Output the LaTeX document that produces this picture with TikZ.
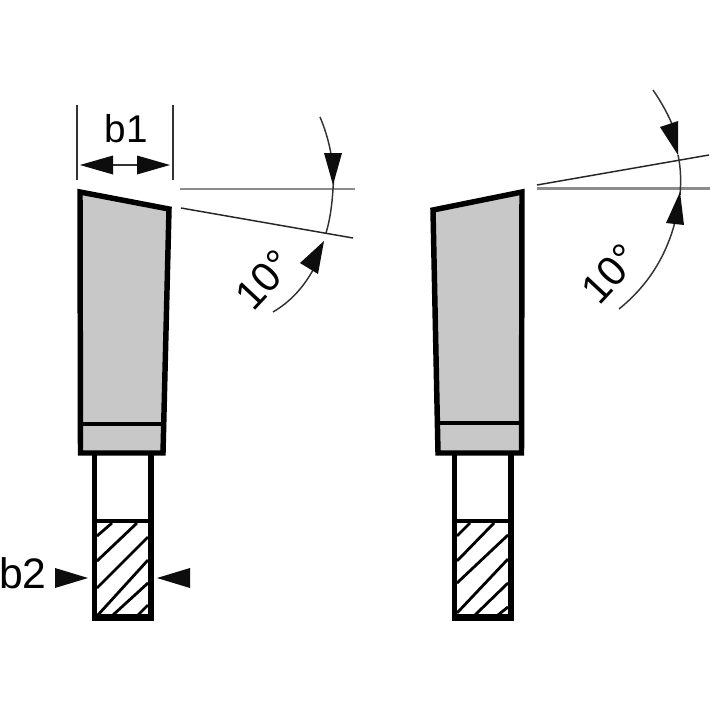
\documentclass[tikz,border=0pt]{standalone}
\usepackage{fontspec}
\setmainfont{Liberation Sans}
\tikzset{
  toothbody/.style={draw=black,line width=4.1pt,fill=toothgray,line join=miter},
  heavy/.style={draw=black,line width=4.1pt,line cap=butt},
  divider/.style={draw=black,line width=2.8pt},
  hatchline/.style={draw=black,line width=2.1pt},
  refgray/.style={draw=black!45,line width=1.9pt},
  refdark/.style={draw=black!85,line width=1.1pt},
  thinline/.style={draw=black!80,line width=1.1pt},
  headfill/.style={fill=black!95,draw=none},
  dimlabel/.style={font=\fontsize{29}{29}\selectfont,text=black,inner sep=0pt},
  anglelabel/.style={font=\fontsize{31}{31}\selectfont,text=black,inner sep=0pt,rotate=47}
}
\definecolor{toothgray}{HTML}{C8C8C8}
\begin{document}
\begin{tikzpicture}[x=0.75pt,y=-0.75pt]
\useasboundingbox (0,0) rectangle (710,710);
\fill[white] (0,0) rectangle (710,710);
% left tooth
\draw[toothbody] (80,192) -- (169,209) -- (163,453) -- (80.5,453) -- cycle;
\draw[divider] (81,424) -- (164,424);
\draw[heavy] (94.5,455) -- (94.5,620);
\draw[heavy] (151,455) -- (151,620);
\draw[divider] (95,521) -- (150,521);
\draw[line width=5pt,draw=black] (92,617.5) -- (153.5,617.5);
\foreach \a/\b/\c/\d in {97/536/112/523, 97/561/137/523, 97/588/148/537, 97/616/148/560, 113/615/148/583, 138/615/148/605}
  \draw[hatchline] (\a,\b) -- (\c,\d);
% b1
\draw[thinline] (77,105) -- (77,180);
\draw[thinline] (173,105) -- (173,180);
\draw[thinline] (100,165) -- (150,165);
\fill[headfill] (80,165) -- (113,155.5) -- (113,174.5) -- cycle;
\fill[headfill] (170,165) -- (137,155.5) -- (137,174.5) -- cycle;
\node[dimlabel] (bone) at (126.5,128.5) {b1};
% left angle
\draw[refgray] (180,189) -- (355,189);
\draw[refdark] (181,208) -- (353,238);
\draw[thinline] (320,117) .. controls (329,138) and (335,165) .. (333,189) .. controls (332,205) and (330,220) .. (326,233);
\draw[thinline] (273,312) .. controls (290,302) and (303,288) .. (313,270);
\fill[headfill] (333,185) -- (324,153) -- (342,153) -- cycle;
\fill[headfill] (324,241) -- (300,263) -- (318,274) -- cycle;
\node[anglelabel] (tenl) at (264,280) {10°};
% b2
\node[dimlabel,font=\fontsize{32}{32}\selectfont,anchor=base west] (btwo) at (-1,588) {b2};
\fill[headfill] (88,578) -- (55,568) -- (55,588) -- cycle;
\fill[headfill] (157,578) -- (190,568) -- (190,588) -- cycle;
% right tooth
\draw[toothbody] (433,210) -- (522,192) -- (521.5,453) -- (438,453) -- cycle;
\draw[divider] (438,423) -- (522,423);
\draw[heavy] (454.5,455) -- (454.5,620);
\draw[heavy] (511,455) -- (511,620);
\draw[divider] (455,521) -- (510,521);
\draw[line width=5pt,draw=black] (452,617.5) -- (513.5,617.5);
\foreach \a/\b/\c/\d in {457/536/470/523, 457/561/494/523, 457/583/508/535, 457/613/508/559, 475/615/508/583, 498/615/508/607}
  \draw[hatchline] (\a,\b) -- (\c,\d);
% right angle
\draw[refgray] (537,188.5) -- (710,188.5);
\draw[refdark] (537,185) -- (709,155);
\draw[thinline] (653,90) .. controls (664,106) and (672,122) .. (676,135);
\draw[thinline] (678,155) .. controls (681,168) and (681,182) .. (680,195);
\draw[thinline] (619,309) .. controls (645,288) and (665,260) .. (675,222);
\fill[headfill] (678,155) -- (660,127) -- (678,121) -- cycle;
\fill[headfill] (680,192) -- (666,223) -- (684,225) -- cycle;
\node[anglelabel] (tenr) at (610,274) {10°};
\end{tikzpicture}
\end{document}
